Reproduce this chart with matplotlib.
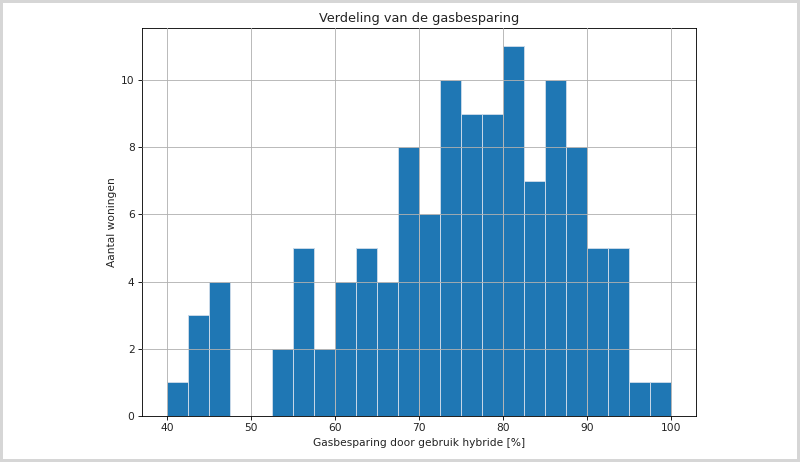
import matplotlib
matplotlib.use("Agg")
import matplotlib.pyplot as plt
import numpy as np

bin_edges = np.linspace(40, 100, 25)
counts = [1, 3, 4, 0, 0, 2, 5, 2, 4, 5, 4, 8, 6, 10, 9, 9, 11, 7, 10, 8, 5, 5, 1, 1]
title = "Verdeling van de gasbesparing"
xlabel = "Gasbesparing door gebruik hybride [%]"
ylabel = "Aantal woningen"

s = 0.77
plt.rcParams.update({
    "font.size": 10 * s,
    "axes.titlesize": 12 * s,
    "axes.labelsize": 10 * s,
    "xtick.labelsize": 10 * s,
    "ytick.labelsize": 10 * s,
    "axes.linewidth": 0.8 * s,
    "xtick.major.size": 3.5 * s,
    "ytick.major.size": 3.5 * s,
    "xtick.major.width": 0.8 * s,
    "ytick.major.width": 0.8 * s,
    "xtick.major.pad": 3.5 * s,
    "ytick.major.pad": 3.5 * s,
    "axes.titlepad": 6 * s,
    "axes.labelpad": 4 * s,
    "text.color": "#222222",
    "axes.labelcolor": "#222222",
    "xtick.labelcolor": "#222222",
    "ytick.labelcolor": "#222222",
})

fig = plt.figure(figsize=(8, 4.62), dpi=100, edgecolor="#d6d6d6", linewidth=3)
ax = fig.add_axes([142/800, 1-416/462, (696-142)/800, (416-28)/462])
centers = (bin_edges[:-1] + bin_edges[1:]) / 2
ax.hist(centers, bins=bin_edges, weights=counts, color="#1f77b4",
        edgecolor="#c8d8e8", linewidth=0.7)
ax.grid(True, color="#b0b0b0", linewidth=0.8 * s)
ax.set_axisbelow(False)
ax.set_title(title)
ax.set_xlabel(xlabel)
ax.set_ylabel(ylabel)
ax.set_yticks([0, 2, 4, 6, 8, 10])
fig.savefig("out.png", dpi=100, edgecolor=fig.get_edgecolor())
